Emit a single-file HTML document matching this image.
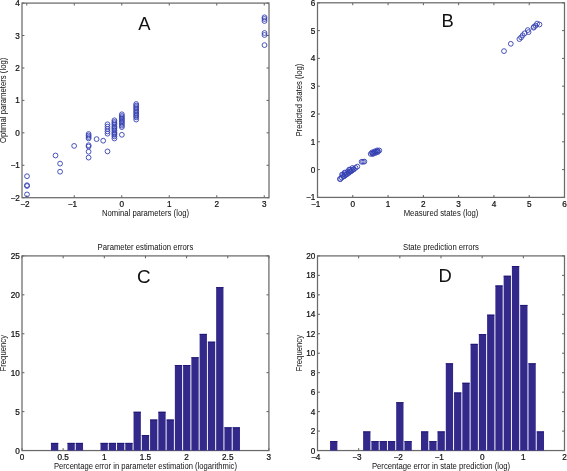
<!DOCTYPE html>
<html><head><meta charset="utf-8"><style>
html,body{margin:0;padding:0;background:#fff;}
svg{display:block;will-change:transform;}
text{font-family:"Liberation Sans", sans-serif;fill:#111;}
.t{stroke:#111;stroke-width:0.22px;}
</style></head><body>
<svg width="567" height="471" viewBox="0 0 567 471">
<rect width="567" height="471" fill="#fff"/>
<line x1="26.75" y1="197.70" x2="26.75" y2="195.30" stroke="#4a4a4a" stroke-width="0.9"/>
<line x1="26.75" y1="3.10" x2="26.75" y2="5.50" stroke="#4a4a4a" stroke-width="0.9"/>
<text x="25.25" y="207.10" text-anchor="middle" font-size="8.2" class="t">−<tspan dx="-0.5">2</tspan></text>
<line x1="74.25" y1="197.70" x2="74.25" y2="195.30" stroke="#4a4a4a" stroke-width="0.9"/>
<line x1="74.25" y1="3.10" x2="74.25" y2="5.50" stroke="#4a4a4a" stroke-width="0.9"/>
<text x="72.75" y="207.10" text-anchor="middle" font-size="8.2" class="t">−<tspan dx="-0.5">1</tspan></text>
<line x1="121.75" y1="197.70" x2="121.75" y2="195.30" stroke="#4a4a4a" stroke-width="0.9"/>
<line x1="121.75" y1="3.10" x2="121.75" y2="5.50" stroke="#4a4a4a" stroke-width="0.9"/>
<text x="121.75" y="207.10" text-anchor="middle" font-size="8.2" class="t">0</text>
<line x1="169.25" y1="197.70" x2="169.25" y2="195.30" stroke="#4a4a4a" stroke-width="0.9"/>
<line x1="169.25" y1="3.10" x2="169.25" y2="5.50" stroke="#4a4a4a" stroke-width="0.9"/>
<text x="169.25" y="207.10" text-anchor="middle" font-size="8.2" class="t">1</text>
<line x1="216.75" y1="197.70" x2="216.75" y2="195.30" stroke="#4a4a4a" stroke-width="0.9"/>
<line x1="216.75" y1="3.10" x2="216.75" y2="5.50" stroke="#4a4a4a" stroke-width="0.9"/>
<text x="216.75" y="207.10" text-anchor="middle" font-size="8.2" class="t">2</text>
<line x1="264.25" y1="197.70" x2="264.25" y2="195.30" stroke="#4a4a4a" stroke-width="0.9"/>
<line x1="264.25" y1="3.10" x2="264.25" y2="5.50" stroke="#4a4a4a" stroke-width="0.9"/>
<text x="264.25" y="207.10" text-anchor="middle" font-size="8.2" class="t">3</text>
<line x1="22.00" y1="197.70" x2="24.40" y2="197.70" stroke="#4a4a4a" stroke-width="0.9"/>
<line x1="269.00" y1="197.70" x2="266.60" y2="197.70" stroke="#4a4a4a" stroke-width="0.9"/>
<text x="19.90" y="200.70" text-anchor="end" font-size="8.2" class="t">−<tspan dx="-0.5">2</tspan></text>
<line x1="22.00" y1="165.27" x2="24.40" y2="165.27" stroke="#4a4a4a" stroke-width="0.9"/>
<line x1="269.00" y1="165.27" x2="266.60" y2="165.27" stroke="#4a4a4a" stroke-width="0.9"/>
<text x="19.90" y="168.27" text-anchor="end" font-size="8.2" class="t">−<tspan dx="-0.5">1</tspan></text>
<line x1="22.00" y1="132.83" x2="24.40" y2="132.83" stroke="#4a4a4a" stroke-width="0.9"/>
<line x1="269.00" y1="132.83" x2="266.60" y2="132.83" stroke="#4a4a4a" stroke-width="0.9"/>
<text x="19.90" y="135.83" text-anchor="end" font-size="8.2" class="t">0</text>
<line x1="22.00" y1="100.40" x2="24.40" y2="100.40" stroke="#4a4a4a" stroke-width="0.9"/>
<line x1="269.00" y1="100.40" x2="266.60" y2="100.40" stroke="#4a4a4a" stroke-width="0.9"/>
<text x="19.90" y="103.40" text-anchor="end" font-size="8.2" class="t">1</text>
<line x1="22.00" y1="67.97" x2="24.40" y2="67.97" stroke="#4a4a4a" stroke-width="0.9"/>
<line x1="269.00" y1="67.97" x2="266.60" y2="67.97" stroke="#4a4a4a" stroke-width="0.9"/>
<text x="19.90" y="70.97" text-anchor="end" font-size="8.2" class="t">2</text>
<line x1="22.00" y1="35.53" x2="24.40" y2="35.53" stroke="#4a4a4a" stroke-width="0.9"/>
<line x1="269.00" y1="35.53" x2="266.60" y2="35.53" stroke="#4a4a4a" stroke-width="0.9"/>
<text x="19.90" y="38.53" text-anchor="end" font-size="8.2" class="t">3</text>
<line x1="22.00" y1="3.10" x2="24.40" y2="3.10" stroke="#4a4a4a" stroke-width="0.9"/>
<line x1="269.00" y1="3.10" x2="266.60" y2="3.10" stroke="#4a4a4a" stroke-width="0.9"/>
<text x="19.90" y="6.10" text-anchor="end" font-size="8.2" class="t">4</text>
<rect x="22.00" y="3.10" width="247.00" height="194.60" fill="none" stroke="#6a6a6a" stroke-width="1.25"/>
<line x1="317.50" y1="197.40" x2="317.50" y2="195.00" stroke="#4a4a4a" stroke-width="0.9"/>
<line x1="317.50" y1="2.80" x2="317.50" y2="5.20" stroke="#4a4a4a" stroke-width="0.9"/>
<text x="316.00" y="206.80" text-anchor="middle" font-size="8.2" class="t">−<tspan dx="-0.5">1</tspan></text>
<line x1="352.79" y1="197.40" x2="352.79" y2="195.00" stroke="#4a4a4a" stroke-width="0.9"/>
<line x1="352.79" y1="2.80" x2="352.79" y2="5.20" stroke="#4a4a4a" stroke-width="0.9"/>
<text x="352.79" y="206.80" text-anchor="middle" font-size="8.2" class="t">0</text>
<line x1="388.07" y1="197.40" x2="388.07" y2="195.00" stroke="#4a4a4a" stroke-width="0.9"/>
<line x1="388.07" y1="2.80" x2="388.07" y2="5.20" stroke="#4a4a4a" stroke-width="0.9"/>
<text x="388.07" y="206.80" text-anchor="middle" font-size="8.2" class="t">1</text>
<line x1="423.36" y1="197.40" x2="423.36" y2="195.00" stroke="#4a4a4a" stroke-width="0.9"/>
<line x1="423.36" y1="2.80" x2="423.36" y2="5.20" stroke="#4a4a4a" stroke-width="0.9"/>
<text x="423.36" y="206.80" text-anchor="middle" font-size="8.2" class="t">2</text>
<line x1="458.64" y1="197.40" x2="458.64" y2="195.00" stroke="#4a4a4a" stroke-width="0.9"/>
<line x1="458.64" y1="2.80" x2="458.64" y2="5.20" stroke="#4a4a4a" stroke-width="0.9"/>
<text x="458.64" y="206.80" text-anchor="middle" font-size="8.2" class="t">3</text>
<line x1="493.93" y1="197.40" x2="493.93" y2="195.00" stroke="#4a4a4a" stroke-width="0.9"/>
<line x1="493.93" y1="2.80" x2="493.93" y2="5.20" stroke="#4a4a4a" stroke-width="0.9"/>
<text x="493.93" y="206.80" text-anchor="middle" font-size="8.2" class="t">4</text>
<line x1="529.21" y1="197.40" x2="529.21" y2="195.00" stroke="#4a4a4a" stroke-width="0.9"/>
<line x1="529.21" y1="2.80" x2="529.21" y2="5.20" stroke="#4a4a4a" stroke-width="0.9"/>
<text x="529.21" y="206.80" text-anchor="middle" font-size="8.2" class="t">5</text>
<line x1="564.50" y1="197.40" x2="564.50" y2="195.00" stroke="#4a4a4a" stroke-width="0.9"/>
<line x1="564.50" y1="2.80" x2="564.50" y2="5.20" stroke="#4a4a4a" stroke-width="0.9"/>
<text x="564.50" y="206.80" text-anchor="middle" font-size="8.2" class="t">6</text>
<line x1="317.50" y1="197.40" x2="319.90" y2="197.40" stroke="#4a4a4a" stroke-width="0.9"/>
<line x1="564.50" y1="197.40" x2="562.10" y2="197.40" stroke="#4a4a4a" stroke-width="0.9"/>
<text x="315.40" y="200.40" text-anchor="end" font-size="8.2" class="t">−<tspan dx="-0.5">1</tspan></text>
<line x1="317.50" y1="169.60" x2="319.90" y2="169.60" stroke="#4a4a4a" stroke-width="0.9"/>
<line x1="564.50" y1="169.60" x2="562.10" y2="169.60" stroke="#4a4a4a" stroke-width="0.9"/>
<text x="315.40" y="172.60" text-anchor="end" font-size="8.2" class="t">0</text>
<line x1="317.50" y1="141.80" x2="319.90" y2="141.80" stroke="#4a4a4a" stroke-width="0.9"/>
<line x1="564.50" y1="141.80" x2="562.10" y2="141.80" stroke="#4a4a4a" stroke-width="0.9"/>
<text x="315.40" y="144.80" text-anchor="end" font-size="8.2" class="t">1</text>
<line x1="317.50" y1="114.00" x2="319.90" y2="114.00" stroke="#4a4a4a" stroke-width="0.9"/>
<line x1="564.50" y1="114.00" x2="562.10" y2="114.00" stroke="#4a4a4a" stroke-width="0.9"/>
<text x="315.40" y="117.00" text-anchor="end" font-size="8.2" class="t">2</text>
<line x1="317.50" y1="86.20" x2="319.90" y2="86.20" stroke="#4a4a4a" stroke-width="0.9"/>
<line x1="564.50" y1="86.20" x2="562.10" y2="86.20" stroke="#4a4a4a" stroke-width="0.9"/>
<text x="315.40" y="89.20" text-anchor="end" font-size="8.2" class="t">3</text>
<line x1="317.50" y1="58.40" x2="319.90" y2="58.40" stroke="#4a4a4a" stroke-width="0.9"/>
<line x1="564.50" y1="58.40" x2="562.10" y2="58.40" stroke="#4a4a4a" stroke-width="0.9"/>
<text x="315.40" y="61.40" text-anchor="end" font-size="8.2" class="t">4</text>
<line x1="317.50" y1="30.60" x2="319.90" y2="30.60" stroke="#4a4a4a" stroke-width="0.9"/>
<line x1="564.50" y1="30.60" x2="562.10" y2="30.60" stroke="#4a4a4a" stroke-width="0.9"/>
<text x="315.40" y="33.60" text-anchor="end" font-size="8.2" class="t">5</text>
<line x1="317.50" y1="2.80" x2="319.90" y2="2.80" stroke="#4a4a4a" stroke-width="0.9"/>
<line x1="564.50" y1="2.80" x2="562.10" y2="2.80" stroke="#4a4a4a" stroke-width="0.9"/>
<text x="315.40" y="5.80" text-anchor="end" font-size="8.2" class="t">6</text>
<rect x="317.50" y="2.80" width="247.00" height="194.60" fill="none" stroke="#6a6a6a" stroke-width="1.25"/>
<line x1="22.00" y1="450.55" x2="22.00" y2="448.15" stroke="#4a4a4a" stroke-width="0.9"/>
<line x1="22.00" y1="255.90" x2="22.00" y2="258.30" stroke="#4a4a4a" stroke-width="0.9"/>
<text x="22.00" y="459.95" text-anchor="middle" font-size="8.2" class="t">0</text>
<line x1="63.15" y1="450.55" x2="63.15" y2="448.15" stroke="#4a4a4a" stroke-width="0.9"/>
<line x1="63.15" y1="255.90" x2="63.15" y2="258.30" stroke="#4a4a4a" stroke-width="0.9"/>
<text x="63.15" y="459.95" text-anchor="middle" font-size="8.2" class="t">0.5</text>
<line x1="104.30" y1="450.55" x2="104.30" y2="448.15" stroke="#4a4a4a" stroke-width="0.9"/>
<line x1="104.30" y1="255.90" x2="104.30" y2="258.30" stroke="#4a4a4a" stroke-width="0.9"/>
<text x="104.30" y="459.95" text-anchor="middle" font-size="8.2" class="t">1</text>
<line x1="145.45" y1="450.55" x2="145.45" y2="448.15" stroke="#4a4a4a" stroke-width="0.9"/>
<line x1="145.45" y1="255.90" x2="145.45" y2="258.30" stroke="#4a4a4a" stroke-width="0.9"/>
<text x="145.45" y="459.95" text-anchor="middle" font-size="8.2" class="t">1.5</text>
<line x1="186.60" y1="450.55" x2="186.60" y2="448.15" stroke="#4a4a4a" stroke-width="0.9"/>
<line x1="186.60" y1="255.90" x2="186.60" y2="258.30" stroke="#4a4a4a" stroke-width="0.9"/>
<text x="186.60" y="459.95" text-anchor="middle" font-size="8.2" class="t">2</text>
<line x1="227.75" y1="450.55" x2="227.75" y2="448.15" stroke="#4a4a4a" stroke-width="0.9"/>
<line x1="227.75" y1="255.90" x2="227.75" y2="258.30" stroke="#4a4a4a" stroke-width="0.9"/>
<text x="227.75" y="459.95" text-anchor="middle" font-size="8.2" class="t">2.5</text>
<line x1="268.90" y1="450.55" x2="268.90" y2="448.15" stroke="#4a4a4a" stroke-width="0.9"/>
<line x1="268.90" y1="255.90" x2="268.90" y2="258.30" stroke="#4a4a4a" stroke-width="0.9"/>
<text x="268.90" y="459.95" text-anchor="middle" font-size="8.2" class="t">3</text>
<line x1="22.00" y1="450.55" x2="24.40" y2="450.55" stroke="#4a4a4a" stroke-width="0.9"/>
<line x1="268.90" y1="450.55" x2="266.50" y2="450.55" stroke="#4a4a4a" stroke-width="0.9"/>
<text x="19.90" y="453.55" text-anchor="end" font-size="8.2" class="t">0</text>
<line x1="22.00" y1="411.62" x2="24.40" y2="411.62" stroke="#4a4a4a" stroke-width="0.9"/>
<line x1="268.90" y1="411.62" x2="266.50" y2="411.62" stroke="#4a4a4a" stroke-width="0.9"/>
<text x="19.90" y="414.62" text-anchor="end" font-size="8.2" class="t">5</text>
<line x1="22.00" y1="372.69" x2="24.40" y2="372.69" stroke="#4a4a4a" stroke-width="0.9"/>
<line x1="268.90" y1="372.69" x2="266.50" y2="372.69" stroke="#4a4a4a" stroke-width="0.9"/>
<text x="19.90" y="375.69" text-anchor="end" font-size="8.2" class="t">10</text>
<line x1="22.00" y1="333.76" x2="24.40" y2="333.76" stroke="#4a4a4a" stroke-width="0.9"/>
<line x1="268.90" y1="333.76" x2="266.50" y2="333.76" stroke="#4a4a4a" stroke-width="0.9"/>
<text x="19.90" y="336.76" text-anchor="end" font-size="8.2" class="t">15</text>
<line x1="22.00" y1="294.83" x2="24.40" y2="294.83" stroke="#4a4a4a" stroke-width="0.9"/>
<line x1="268.90" y1="294.83" x2="266.50" y2="294.83" stroke="#4a4a4a" stroke-width="0.9"/>
<text x="19.90" y="297.83" text-anchor="end" font-size="8.2" class="t">20</text>
<line x1="22.00" y1="255.90" x2="24.40" y2="255.90" stroke="#4a4a4a" stroke-width="0.9"/>
<line x1="268.90" y1="255.90" x2="266.50" y2="255.90" stroke="#4a4a4a" stroke-width="0.9"/>
<text x="19.90" y="258.90" text-anchor="end" font-size="8.2" class="t">25</text>
<rect x="22.00" y="255.90" width="246.90" height="194.65" fill="none" stroke="#6a6a6a" stroke-width="1.25"/>
<line x1="317.50" y1="450.55" x2="317.50" y2="448.15" stroke="#4a4a4a" stroke-width="0.9"/>
<line x1="317.50" y1="255.90" x2="317.50" y2="258.30" stroke="#4a4a4a" stroke-width="0.9"/>
<text x="316.00" y="459.95" text-anchor="middle" font-size="8.2" class="t">−<tspan dx="-0.5">4</tspan></text>
<line x1="358.67" y1="450.55" x2="358.67" y2="448.15" stroke="#4a4a4a" stroke-width="0.9"/>
<line x1="358.67" y1="255.90" x2="358.67" y2="258.30" stroke="#4a4a4a" stroke-width="0.9"/>
<text x="357.17" y="459.95" text-anchor="middle" font-size="8.2" class="t">−<tspan dx="-0.5">3</tspan></text>
<line x1="399.83" y1="450.55" x2="399.83" y2="448.15" stroke="#4a4a4a" stroke-width="0.9"/>
<line x1="399.83" y1="255.90" x2="399.83" y2="258.30" stroke="#4a4a4a" stroke-width="0.9"/>
<text x="398.33" y="459.95" text-anchor="middle" font-size="8.2" class="t">−<tspan dx="-0.5">2</tspan></text>
<line x1="441.00" y1="450.55" x2="441.00" y2="448.15" stroke="#4a4a4a" stroke-width="0.9"/>
<line x1="441.00" y1="255.90" x2="441.00" y2="258.30" stroke="#4a4a4a" stroke-width="0.9"/>
<text x="439.50" y="459.95" text-anchor="middle" font-size="8.2" class="t">−<tspan dx="-0.5">1</tspan></text>
<line x1="482.17" y1="450.55" x2="482.17" y2="448.15" stroke="#4a4a4a" stroke-width="0.9"/>
<line x1="482.17" y1="255.90" x2="482.17" y2="258.30" stroke="#4a4a4a" stroke-width="0.9"/>
<text x="482.17" y="459.95" text-anchor="middle" font-size="8.2" class="t">0</text>
<line x1="523.33" y1="450.55" x2="523.33" y2="448.15" stroke="#4a4a4a" stroke-width="0.9"/>
<line x1="523.33" y1="255.90" x2="523.33" y2="258.30" stroke="#4a4a4a" stroke-width="0.9"/>
<text x="523.33" y="459.95" text-anchor="middle" font-size="8.2" class="t">1</text>
<line x1="564.50" y1="450.55" x2="564.50" y2="448.15" stroke="#4a4a4a" stroke-width="0.9"/>
<line x1="564.50" y1="255.90" x2="564.50" y2="258.30" stroke="#4a4a4a" stroke-width="0.9"/>
<text x="564.50" y="459.95" text-anchor="middle" font-size="8.2" class="t">2</text>
<line x1="317.50" y1="450.55" x2="319.90" y2="450.55" stroke="#4a4a4a" stroke-width="0.9"/>
<line x1="564.50" y1="450.55" x2="562.10" y2="450.55" stroke="#4a4a4a" stroke-width="0.9"/>
<text x="315.40" y="453.55" text-anchor="end" font-size="8.2" class="t">0</text>
<line x1="317.50" y1="431.09" x2="319.90" y2="431.09" stroke="#4a4a4a" stroke-width="0.9"/>
<line x1="564.50" y1="431.09" x2="562.10" y2="431.09" stroke="#4a4a4a" stroke-width="0.9"/>
<text x="315.40" y="434.09" text-anchor="end" font-size="8.2" class="t">2</text>
<line x1="317.50" y1="411.62" x2="319.90" y2="411.62" stroke="#4a4a4a" stroke-width="0.9"/>
<line x1="564.50" y1="411.62" x2="562.10" y2="411.62" stroke="#4a4a4a" stroke-width="0.9"/>
<text x="315.40" y="414.62" text-anchor="end" font-size="8.2" class="t">4</text>
<line x1="317.50" y1="392.16" x2="319.90" y2="392.16" stroke="#4a4a4a" stroke-width="0.9"/>
<line x1="564.50" y1="392.16" x2="562.10" y2="392.16" stroke="#4a4a4a" stroke-width="0.9"/>
<text x="315.40" y="395.16" text-anchor="end" font-size="8.2" class="t">6</text>
<line x1="317.50" y1="372.69" x2="319.90" y2="372.69" stroke="#4a4a4a" stroke-width="0.9"/>
<line x1="564.50" y1="372.69" x2="562.10" y2="372.69" stroke="#4a4a4a" stroke-width="0.9"/>
<text x="315.40" y="375.69" text-anchor="end" font-size="8.2" class="t">8</text>
<line x1="317.50" y1="353.23" x2="319.90" y2="353.23" stroke="#4a4a4a" stroke-width="0.9"/>
<line x1="564.50" y1="353.23" x2="562.10" y2="353.23" stroke="#4a4a4a" stroke-width="0.9"/>
<text x="315.40" y="356.23" text-anchor="end" font-size="8.2" class="t">10</text>
<line x1="317.50" y1="333.76" x2="319.90" y2="333.76" stroke="#4a4a4a" stroke-width="0.9"/>
<line x1="564.50" y1="333.76" x2="562.10" y2="333.76" stroke="#4a4a4a" stroke-width="0.9"/>
<text x="315.40" y="336.76" text-anchor="end" font-size="8.2" class="t">12</text>
<line x1="317.50" y1="314.30" x2="319.90" y2="314.30" stroke="#4a4a4a" stroke-width="0.9"/>
<line x1="564.50" y1="314.30" x2="562.10" y2="314.30" stroke="#4a4a4a" stroke-width="0.9"/>
<text x="315.40" y="317.30" text-anchor="end" font-size="8.2" class="t">14</text>
<line x1="317.50" y1="294.83" x2="319.90" y2="294.83" stroke="#4a4a4a" stroke-width="0.9"/>
<line x1="564.50" y1="294.83" x2="562.10" y2="294.83" stroke="#4a4a4a" stroke-width="0.9"/>
<text x="315.40" y="297.83" text-anchor="end" font-size="8.2" class="t">16</text>
<line x1="317.50" y1="275.37" x2="319.90" y2="275.37" stroke="#4a4a4a" stroke-width="0.9"/>
<line x1="564.50" y1="275.37" x2="562.10" y2="275.37" stroke="#4a4a4a" stroke-width="0.9"/>
<text x="315.40" y="278.37" text-anchor="end" font-size="8.2" class="t">18</text>
<line x1="317.50" y1="255.90" x2="319.90" y2="255.90" stroke="#4a4a4a" stroke-width="0.9"/>
<line x1="564.50" y1="255.90" x2="562.10" y2="255.90" stroke="#4a4a4a" stroke-width="0.9"/>
<text x="315.40" y="258.90" text-anchor="end" font-size="8.2" class="t">20</text>
<rect x="317.50" y="255.90" width="247.00" height="194.65" fill="none" stroke="#6a6a6a" stroke-width="1.25"/>
<rect x="50.95" y="442.91" width="7.30" height="7.64" fill="#32298b"/>
<rect x="50.95" y="442.91" width="7.30" height="0.9" fill="#1e1472"/>
<rect x="67.47" y="442.91" width="7.30" height="7.64" fill="#32298b"/>
<rect x="67.47" y="442.91" width="7.30" height="0.9" fill="#1e1472"/>
<rect x="75.73" y="442.91" width="7.30" height="7.64" fill="#32298b"/>
<rect x="75.73" y="442.91" width="7.30" height="0.9" fill="#1e1472"/>
<rect x="100.51" y="442.91" width="7.30" height="7.64" fill="#32298b"/>
<rect x="100.51" y="442.91" width="7.30" height="0.9" fill="#1e1472"/>
<rect x="108.77" y="442.91" width="7.30" height="7.64" fill="#32298b"/>
<rect x="108.77" y="442.91" width="7.30" height="0.9" fill="#1e1472"/>
<rect x="117.03" y="442.91" width="7.30" height="7.64" fill="#32298b"/>
<rect x="117.03" y="442.91" width="7.30" height="0.9" fill="#1e1472"/>
<rect x="125.29" y="442.91" width="7.30" height="7.64" fill="#32298b"/>
<rect x="125.29" y="442.91" width="7.30" height="0.9" fill="#1e1472"/>
<rect x="133.55" y="411.77" width="7.30" height="38.78" fill="#32298b"/>
<rect x="133.55" y="411.77" width="7.30" height="0.9" fill="#1e1472"/>
<rect x="141.81" y="435.13" width="7.30" height="15.42" fill="#32298b"/>
<rect x="141.81" y="435.13" width="7.30" height="0.9" fill="#1e1472"/>
<rect x="150.07" y="419.56" width="7.30" height="30.99" fill="#32298b"/>
<rect x="150.07" y="419.56" width="7.30" height="0.9" fill="#1e1472"/>
<rect x="158.33" y="411.77" width="7.30" height="38.78" fill="#32298b"/>
<rect x="158.33" y="411.77" width="7.30" height="0.9" fill="#1e1472"/>
<rect x="166.59" y="419.56" width="7.30" height="30.99" fill="#32298b"/>
<rect x="166.59" y="419.56" width="7.30" height="0.9" fill="#1e1472"/>
<rect x="174.85" y="365.05" width="7.30" height="85.50" fill="#32298b"/>
<rect x="174.85" y="365.05" width="7.30" height="0.9" fill="#1e1472"/>
<rect x="183.11" y="365.05" width="7.30" height="85.50" fill="#32298b"/>
<rect x="183.11" y="365.05" width="7.30" height="0.9" fill="#1e1472"/>
<rect x="191.37" y="357.27" width="7.30" height="93.28" fill="#32298b"/>
<rect x="191.37" y="357.27" width="7.30" height="0.9" fill="#1e1472"/>
<rect x="199.63" y="333.91" width="7.30" height="116.64" fill="#32298b"/>
<rect x="199.63" y="333.91" width="7.30" height="0.9" fill="#1e1472"/>
<rect x="207.89" y="341.70" width="7.30" height="108.85" fill="#32298b"/>
<rect x="207.89" y="341.70" width="7.30" height="0.9" fill="#1e1472"/>
<rect x="216.15" y="287.19" width="7.30" height="163.36" fill="#32298b"/>
<rect x="216.15" y="287.19" width="7.30" height="0.9" fill="#1e1472"/>
<rect x="224.41" y="427.34" width="7.30" height="23.21" fill="#32298b"/>
<rect x="224.41" y="427.34" width="7.30" height="0.9" fill="#1e1472"/>
<rect x="232.67" y="427.34" width="7.30" height="23.21" fill="#32298b"/>
<rect x="232.67" y="427.34" width="7.30" height="0.9" fill="#1e1472"/>
<rect x="330.06" y="441.17" width="7.30" height="9.38" fill="#32298b"/>
<rect x="330.06" y="441.17" width="7.30" height="0.9" fill="#1e1472"/>
<rect x="363.12" y="431.44" width="7.30" height="19.11" fill="#32298b"/>
<rect x="363.12" y="431.44" width="7.30" height="0.9" fill="#1e1472"/>
<rect x="371.39" y="441.17" width="7.30" height="9.38" fill="#32298b"/>
<rect x="371.39" y="441.17" width="7.30" height="0.9" fill="#1e1472"/>
<rect x="379.66" y="441.17" width="7.30" height="9.38" fill="#32298b"/>
<rect x="379.66" y="441.17" width="7.30" height="0.9" fill="#1e1472"/>
<rect x="387.92" y="441.17" width="7.30" height="9.38" fill="#32298b"/>
<rect x="387.92" y="441.17" width="7.30" height="0.9" fill="#1e1472"/>
<rect x="396.19" y="402.25" width="7.30" height="48.30" fill="#32298b"/>
<rect x="396.19" y="402.25" width="7.30" height="0.9" fill="#1e1472"/>
<rect x="404.45" y="441.17" width="7.30" height="9.38" fill="#32298b"/>
<rect x="404.45" y="441.17" width="7.30" height="0.9" fill="#1e1472"/>
<rect x="420.99" y="431.44" width="7.30" height="19.11" fill="#32298b"/>
<rect x="420.99" y="431.44" width="7.30" height="0.9" fill="#1e1472"/>
<rect x="429.25" y="441.17" width="7.30" height="9.38" fill="#32298b"/>
<rect x="429.25" y="441.17" width="7.30" height="0.9" fill="#1e1472"/>
<rect x="437.52" y="431.44" width="7.30" height="19.11" fill="#32298b"/>
<rect x="437.52" y="431.44" width="7.30" height="0.9" fill="#1e1472"/>
<rect x="445.78" y="363.33" width="7.30" height="87.22" fill="#32298b"/>
<rect x="445.78" y="363.33" width="7.30" height="0.9" fill="#1e1472"/>
<rect x="454.05" y="392.52" width="7.30" height="58.03" fill="#32298b"/>
<rect x="454.05" y="392.52" width="7.30" height="0.9" fill="#1e1472"/>
<rect x="462.32" y="382.79" width="7.30" height="67.76" fill="#32298b"/>
<rect x="462.32" y="382.79" width="7.30" height="0.9" fill="#1e1472"/>
<rect x="470.58" y="343.87" width="7.30" height="106.68" fill="#32298b"/>
<rect x="470.58" y="343.87" width="7.30" height="0.9" fill="#1e1472"/>
<rect x="478.85" y="334.14" width="7.30" height="116.41" fill="#32298b"/>
<rect x="478.85" y="334.14" width="7.30" height="0.9" fill="#1e1472"/>
<rect x="487.11" y="314.68" width="7.30" height="135.87" fill="#32298b"/>
<rect x="487.11" y="314.68" width="7.30" height="0.9" fill="#1e1472"/>
<rect x="495.38" y="285.49" width="7.30" height="165.06" fill="#32298b"/>
<rect x="495.38" y="285.49" width="7.30" height="0.9" fill="#1e1472"/>
<rect x="503.65" y="275.76" width="7.30" height="174.79" fill="#32298b"/>
<rect x="503.65" y="275.76" width="7.30" height="0.9" fill="#1e1472"/>
<rect x="511.91" y="266.03" width="7.30" height="184.52" fill="#32298b"/>
<rect x="511.91" y="266.03" width="7.30" height="0.9" fill="#1e1472"/>
<rect x="520.18" y="304.95" width="7.30" height="145.60" fill="#32298b"/>
<rect x="520.18" y="304.95" width="7.30" height="0.9" fill="#1e1472"/>
<rect x="528.44" y="363.33" width="7.30" height="87.22" fill="#32298b"/>
<rect x="528.44" y="363.33" width="7.30" height="0.9" fill="#1e1472"/>
<rect x="536.71" y="431.44" width="7.30" height="19.11" fill="#32298b"/>
<rect x="536.71" y="431.44" width="7.30" height="0.9" fill="#1e1472"/>
<g fill="none" stroke="#3541b2" stroke-width="0.9">
<circle cx="27.00" cy="176.20" r="2.4"/>
<circle cx="27.00" cy="185.20" r="2.4"/>
<circle cx="27.00" cy="186.00" r="2.4"/>
<circle cx="27.00" cy="194.40" r="2.4"/>
<circle cx="55.50" cy="155.50" r="2.4"/>
<circle cx="60.10" cy="163.60" r="2.4"/>
<circle cx="60.10" cy="171.70" r="2.4"/>
<circle cx="74.15" cy="145.90" r="2.4"/>
<circle cx="88.60" cy="134.00" r="2.4"/>
<circle cx="88.60" cy="135.50" r="2.4"/>
<circle cx="88.60" cy="137.00" r="2.4"/>
<circle cx="88.60" cy="138.40" r="2.4"/>
<circle cx="88.60" cy="145.20" r="2.4"/>
<circle cx="88.60" cy="146.50" r="2.4"/>
<circle cx="88.60" cy="151.70" r="2.4"/>
<circle cx="88.60" cy="157.60" r="2.4"/>
<circle cx="96.60" cy="139.10" r="2.4"/>
<circle cx="103.20" cy="140.70" r="2.4"/>
<circle cx="107.50" cy="151.40" r="2.4"/>
<circle cx="107.50" cy="124.30" r="2.4"/>
<circle cx="107.50" cy="126.60" r="2.4"/>
<circle cx="107.50" cy="129.00" r="2.4"/>
<circle cx="107.50" cy="131.40" r="2.4"/>
<circle cx="107.50" cy="133.70" r="2.4"/>
<circle cx="114.40" cy="120.30" r="2.4"/>
<circle cx="114.40" cy="122.00" r="2.4"/>
<circle cx="114.40" cy="123.30" r="2.4"/>
<circle cx="114.40" cy="124.80" r="2.4"/>
<circle cx="114.40" cy="126.50" r="2.4"/>
<circle cx="114.40" cy="127.80" r="2.4"/>
<circle cx="114.40" cy="129.00" r="2.4"/>
<circle cx="114.40" cy="130.50" r="2.4"/>
<circle cx="114.40" cy="132.20" r="2.4"/>
<circle cx="114.40" cy="133.50" r="2.4"/>
<circle cx="114.40" cy="134.80" r="2.4"/>
<circle cx="114.40" cy="136.40" r="2.4"/>
<circle cx="114.40" cy="138.50" r="2.4"/>
<circle cx="121.85" cy="114.30" r="2.4"/>
<circle cx="121.85" cy="116.00" r="2.4"/>
<circle cx="121.85" cy="117.30" r="2.4"/>
<circle cx="121.85" cy="118.60" r="2.4"/>
<circle cx="121.85" cy="119.90" r="2.4"/>
<circle cx="121.85" cy="121.20" r="2.4"/>
<circle cx="121.85" cy="122.50" r="2.4"/>
<circle cx="121.85" cy="124.00" r="2.4"/>
<circle cx="121.85" cy="125.60" r="2.4"/>
<circle cx="121.85" cy="127.10" r="2.4"/>
<circle cx="121.85" cy="134.80" r="2.4"/>
<circle cx="136.20" cy="104.00" r="2.4"/>
<circle cx="136.20" cy="105.60" r="2.4"/>
<circle cx="136.20" cy="107.00" r="2.4"/>
<circle cx="136.20" cy="108.50" r="2.4"/>
<circle cx="136.20" cy="110.00" r="2.4"/>
<circle cx="136.20" cy="111.50" r="2.4"/>
<circle cx="136.20" cy="113.00" r="2.4"/>
<circle cx="136.20" cy="114.50" r="2.4"/>
<circle cx="136.20" cy="116.00" r="2.4"/>
<circle cx="136.20" cy="117.40" r="2.4"/>
<circle cx="136.20" cy="119.60" r="2.4"/>
<circle cx="264.50" cy="17.30" r="2.4"/>
<circle cx="264.50" cy="19.00" r="2.4"/>
<circle cx="264.50" cy="21.00" r="2.4"/>
<circle cx="264.50" cy="33.00" r="2.4"/>
<circle cx="264.50" cy="35.00" r="2.4"/>
<circle cx="264.50" cy="45.10" r="2.4"/>
<circle cx="340.00" cy="178.90" r="2.4"/>
<circle cx="341.73" cy="177.67" r="2.4"/>
<circle cx="343.46" cy="176.44" r="2.4"/>
<circle cx="345.19" cy="175.21" r="2.4"/>
<circle cx="346.92" cy="173.98" r="2.4"/>
<circle cx="348.65" cy="172.75" r="2.4"/>
<circle cx="350.38" cy="171.52" r="2.4"/>
<circle cx="352.11" cy="170.29" r="2.4"/>
<circle cx="353.84" cy="169.06" r="2.4"/>
<circle cx="355.57" cy="167.83" r="2.4"/>
<circle cx="357.30" cy="166.60" r="2.4"/>
<circle cx="342.92" cy="174.79" r="2.4"/>
<circle cx="345.29" cy="173.09" r="2.4"/>
<circle cx="347.67" cy="171.39" r="2.4"/>
<circle cx="350.04" cy="169.69" r="2.4"/>
<circle cx="352.42" cy="167.99" r="2.4"/>
<circle cx="344.02" cy="176.33" r="2.4"/>
<circle cx="346.40" cy="174.63" r="2.4"/>
<circle cx="348.77" cy="172.93" r="2.4"/>
<circle cx="351.15" cy="171.23" r="2.4"/>
<circle cx="353.52" cy="169.53" r="2.4"/>
<circle cx="340.20" cy="179.20" r="2.4"/>
<circle cx="342.00" cy="174.60" r="2.4"/>
<circle cx="344.60" cy="172.60" r="2.4"/>
<circle cx="349.20" cy="169.60" r="2.4"/>
<circle cx="361.60" cy="161.80" r="2.4"/>
<circle cx="363.00" cy="161.70" r="2.4"/>
<circle cx="364.40" cy="161.60" r="2.4"/>
<circle cx="370.70" cy="153.90" r="2.4"/>
<circle cx="372.13" cy="153.33" r="2.4"/>
<circle cx="373.57" cy="152.77" r="2.4"/>
<circle cx="375.00" cy="152.20" r="2.4"/>
<circle cx="376.43" cy="151.63" r="2.4"/>
<circle cx="377.87" cy="151.07" r="2.4"/>
<circle cx="379.30" cy="150.50" r="2.4"/>
<circle cx="372.17" cy="152.36" r="2.4"/>
<circle cx="374.67" cy="151.36" r="2.4"/>
<circle cx="377.17" cy="150.36" r="2.4"/>
<circle cx="372.83" cy="154.04" r="2.4"/>
<circle cx="375.33" cy="153.04" r="2.4"/>
<circle cx="377.83" cy="152.04" r="2.4"/>
<circle cx="504.00" cy="51.10" r="2.4"/>
<circle cx="510.80" cy="43.80" r="2.4"/>
<circle cx="519.40" cy="39.10" r="2.4"/>
<circle cx="521.10" cy="37.40" r="2.4"/>
<circle cx="522.70" cy="35.30" r="2.4"/>
<circle cx="524.60" cy="33.30" r="2.4"/>
<circle cx="527.80" cy="30.10" r="2.4"/>
<circle cx="528.60" cy="32.10" r="2.4"/>
<circle cx="533.50" cy="27.70" r="2.4"/>
<circle cx="533.90" cy="26.90" r="2.4"/>
<circle cx="535.50" cy="25.70" r="2.4"/>
<circle cx="537.10" cy="23.60" r="2.4"/>
<circle cx="539.50" cy="24.50" r="2.4"/>
</g>
<text transform="translate(145.50,215.90) scale(0.92,1)" text-anchor="middle" font-size="8.4">Nominal parameters (log)</text>
<text transform="translate(6.00,100.40) rotate(-90) scale(0.92,1)" text-anchor="middle" font-size="8.4">Optimal parameters (log)</text>
<text transform="translate(441.00,215.60) scale(0.92,1)" text-anchor="middle" font-size="8.4">Measured states (log)</text>
<text transform="translate(301.50,100.10) rotate(-90) scale(0.92,1)" text-anchor="middle" font-size="8.4">Predicted states (log)</text>
<text transform="translate(145.45,468.75) scale(0.908,1)" text-anchor="middle" font-size="8.4">Percentage error in parameter estimation (logarithmic)</text>
<text transform="translate(6.00,353.23) rotate(-90) scale(0.92,1)" text-anchor="middle" font-size="8.4">Frequency</text>
<text transform="translate(441.00,468.75) scale(0.92,1)" text-anchor="middle" font-size="8.4">Percentage error in state prediction (log)</text>
<text transform="translate(301.50,353.23) rotate(-90) scale(0.92,1)" text-anchor="middle" font-size="8.4">Frequency</text>
<text transform="translate(145.45,249.70) scale(0.92,1)" text-anchor="middle" font-size="8.4">Parameter estimation errors</text>
<text transform="translate(441.00,249.70) scale(0.92,1)" text-anchor="middle" font-size="8.4">State prediction errors</text>
<text x="138.30" y="29.90" font-size="18.4">A</text>
<text x="441.50" y="26.60" font-size="18.4">B</text>
<text x="137.00" y="282.80" font-size="18.9">C</text>
<text x="438.60" y="281.90" font-size="18.4">D</text>
</svg></body></html>
